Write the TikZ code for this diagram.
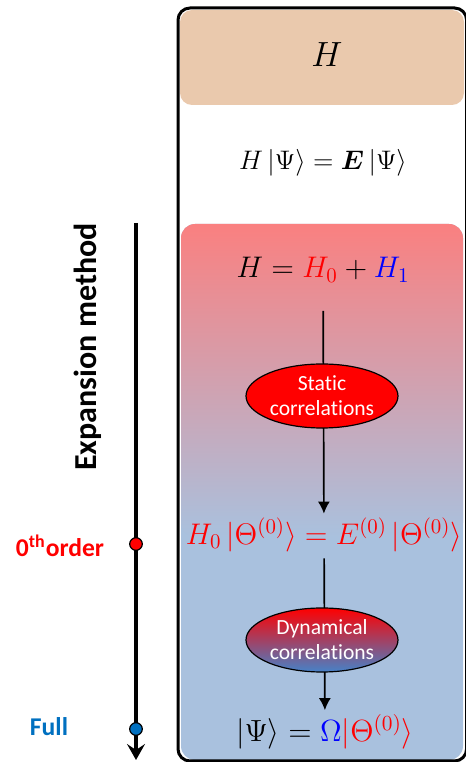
\RequirePackage{fix-cm}
\documentclass[tikz,border=0pt]{standalone}
\usepackage{amsmath,amssymb}
\usepackage{bm}
\usepackage{fontspec}
\newfontfamily\calibri[Ligatures=NoCommon]{Carlito}
\usetikzlibrary{shapes.geometric,arrows.meta,positioning}
\definecolor{tanbox}{RGB}{234,201,173}
\definecolor{pinktop}{RGB}{250,128,128}
\definecolor{bluebot}{RGB}{169,193,222}
\definecolor{fullblue}{RGB}{0,112,192}
\definecolor{dynblue}{RGB}{70,130,200}
\newcommand{\fs}[1]{\fontsize{#1}{#1}\selectfont}

\begin{document}
\begin{tikzpicture}[x=0.5pt, y=0.5pt,
  eqn/.style={inner sep=2pt},
  flow/.style={line width=0.85pt, -{Latex[length=6pt,width=6pt]}},
  corr/.style={ellipse, draw=black, line width=0.6pt, inner sep=0pt,
    minimum width=76pt, minimum height=32pt, text=white, align=center,
    font=\calibri\fontsize{10.8}{12.5}\selectfont},
  dot/.style={circle, draw=black, line width=0.6pt, inner sep=0pt, minimum size=6.3pt},
  lab/.style={font=\calibri\bfseries\fs{12.8}}]
  % Pixel grid: 466 x 762, y counted from the bottom
  \useasboundingbox (0,0) rectangle (466,762);

  % Panels
  \fill[tanbox, rounded corners=6pt] (180,657) rectangle (464,752);
  \fill[bluebot, rounded corners=7pt] (181,2) rectangle (463,538);
  \shade[top color=pinktop, bottom color=bluebot, rounded corners=7pt]
    (181,225) rectangle (463,538);
  \draw[line width=1.5pt, rounded corners=6pt] (178,1) rectangle (466.6,754);

  % Equations
  \node[eqn, font=\fs{17.5}] (ham) at (327,707) {$H$};
  \node[eqn, font=\fs{13.4}] (schr) at (323,599)
    {$H\,|\Psi\rangle = \bm{E}\,|\Psi\rangle$};
  \node[eqn, font=\fs{14.9}] (split) at (323,492)
    {$H = \textcolor{red}{H_0} + \textcolor{blue}{H_1}$};
  \node[eqn, font=\fs{14.9}, text=red] (zero) at (324,227)
    {$H_0\,|\Theta^{(0)}\rangle = E^{(0)}\,|\Theta^{(0)}\rangle$};
  \node[eqn, font=\fs{15.3}] (exact) at (325,30)
    {$|\Psi\rangle = \textcolor{blue}{\Omega}\textcolor{red}{|\Theta^{(0)}\rangle}$};

  % Arrows through the correlation steps
  \draw[flow, shorten <=12pt] (split) -- (zero);
  \draw[flow, shorten <=1pt] (zero) -- (exact);
  \node[corr, fill=red] (static) at (322,366) {Static\\correlations};
  \node[corr, top color=red, bottom color=dynblue] (dynamic) at (322,122)
    {Dynamical\\correlations};

  % Expansion axis
  \coordinate (axtop) at (136,539);
  \coordinate (axbot) at (136,2);
  \draw[line width=1.6pt, -{Stealth[length=8pt,width=9pt,inset=3pt]}] (axtop) -- (axbot);
  \node[dot, fill=red] (ord0) at (136,218) {};
  \node[dot, fill=fullblue] (ordfull) at (136,33) {};
  \node[lab, text=red] (ord0lab) at (60,216) {0\textsuperscript{th}order};
  \node[lab, text=fullblue] (fulllab) at (49,35) {Full};
  \node[font=\calibri\bfseries\fs{16}, rotate=90] (method) at (88,415)
    {Expansion method};
\end{tikzpicture}
\end{document}
